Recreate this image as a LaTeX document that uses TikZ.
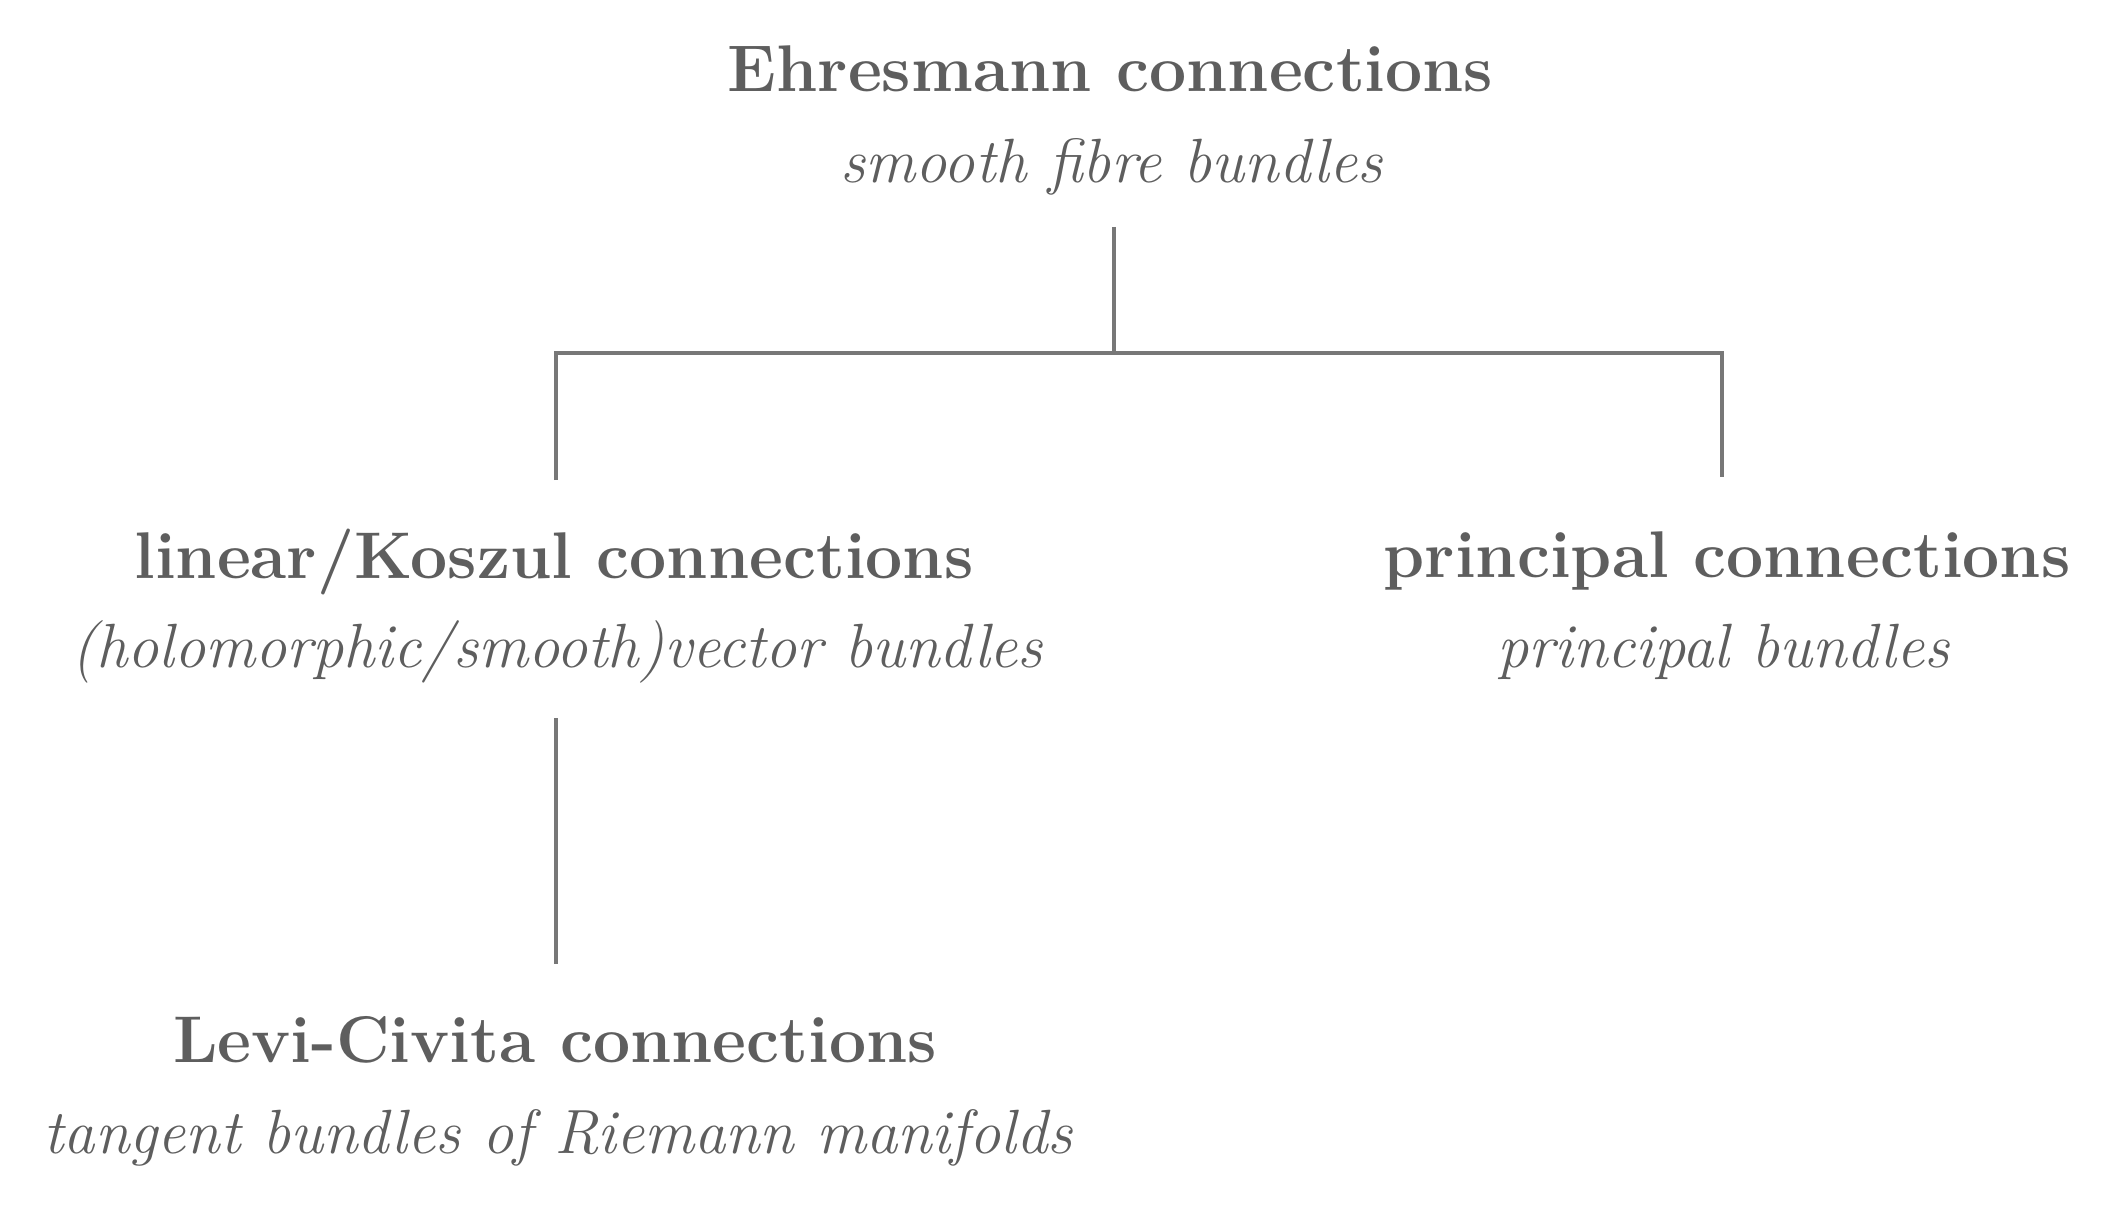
\documentclass[tikz,border=0pt]{standalone}
\usepackage{fontspec}
\definecolor{txt}{HTML}{5E5E5E}
\definecolor{ln}{HTML}{777777}
\begin{document}
\begin{tikzpicture}[x=1pt,y=-1pt,
  title/.style={font=\fontsize{66}{80}\selectfont\bfseries, text=txt, inner sep=0pt, anchor=base},
  sub/.style={font=\fontsize{62.5}{80}\selectfont\itshape, text=txt, inner sep=0pt, anchor=base},
  conn/.style={draw=ln, line width=4pt}]
\useasboundingbox (0,0) rectangle (2122,1214);
\node[title] (e)  at (1110.5,92)  {Ehresmann connections};
\node[sub]   (es) at (1111.5,183) {smooth fibre bundles};
\node[title] (l)  at (554,578)    {linear/Koszul connections};
\node[sub]   (ls) at (557,667)    {(holomorphic/smooth)vector bundles};
\node[title] (p)  at (1727,577)   {principal connections};
\node[sub]   (ps) at (1723.5,667) {principal bundles};
\node[title] (c)  at (555,1062)   {Levi-Civita connections};
\node[sub]   (cs) at (558,1153)   {tangent bundles of Riemann manifolds};
\coordinate (etop) at (1114,227);
\coordinate (j)    at (1114,353);
\coordinate (jl)   at (556,353);
\coordinate (jr)   at (1722,353);
\coordinate (lkt)  at (556,480);
\coordinate (prt)  at (1722,477);
\coordinate (lkb)  at (556,718);
\coordinate (lct)  at (556,964);
\draw[conn] (etop) -- (j);
\draw[conn] (lkt) -- (jl) -- (jr) -- (prt);
\draw[conn] (lkb) -- (lct);
\end{tikzpicture}
\end{document}
